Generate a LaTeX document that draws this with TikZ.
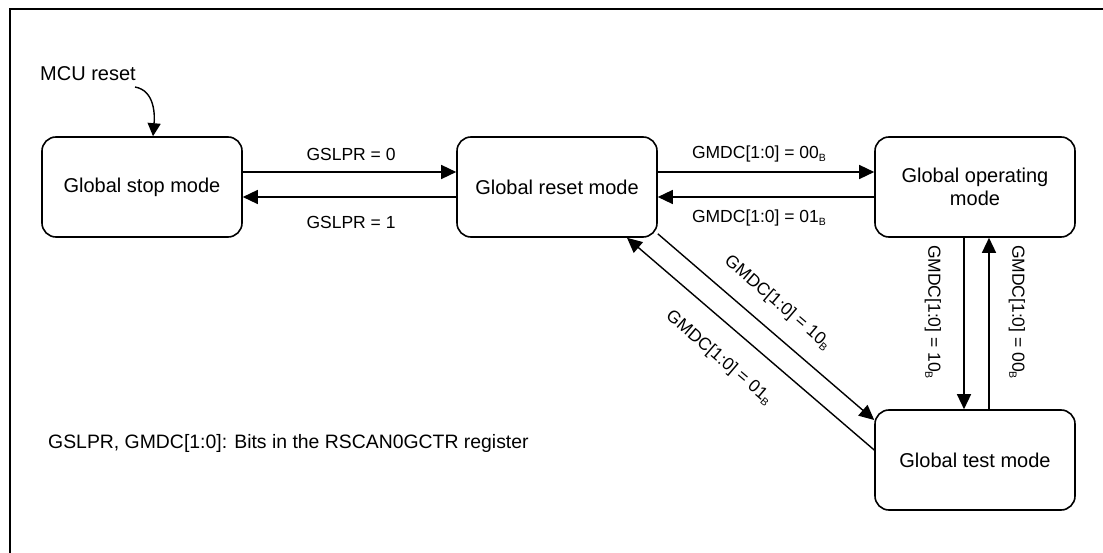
\documentclass[tikz,border=0pt]{standalone}
\usepackage{fontspec}
\setmainfont{Liberation Sans}
\usetikzlibrary{arrows.meta}
\newcommand\bsub{\raisebox{-0.18em}{\fontsize{10.5}{11}\selectfont B}}
\tikzset{
  modebox/.style={draw, line width=1.6pt, rounded corners=14pt, minimum width=200pt, minimum height=100pt, align=center, inner sep=0pt, font=\fontsize{20}{23}\selectfont},
  arr/.style={line width=1.4pt, -{Triangle[length=15pt,width=14pt]}},
  lbl/.style={inner sep=0pt, font=\fontsize{17.5}{20}\selectfont},
  txt/.style={inner sep=0pt, font=\fontsize{20}{23}\selectfont}
}
\begin{document}
\begin{tikzpicture}[x=1pt,y=1pt]
\useasboundingbox (0,0) rectangle (1103,552);
% frame
\draw[line width=2.2pt] (10,-5) -- (10,543) -- (1110,543);
% boxes
\node[modebox] (stop) at (142,365) {Global stop mode};
\node[modebox] (reset) at (557,365) {Global reset mode};
\node[modebox] (op) at (975,365) {Global operating\\mode};
\node[modebox] (test) at (975,92) {Global test mode};
% MCU reset
\node[txt] (mcu) at (88,478) {MCU reset};
\coordinate (mcustart) at (135,465);
\draw[line width=1.4pt, -{Triangle[length=13pt,width=13pt]}] (mcustart) to[out=-10, in=85] ([xshift=11pt]stop.north);
% horizontal arrows
\draw[arr] ([yshift=15pt]stop.east) -- ([yshift=15pt]reset.west);
\draw[arr] ([yshift=-10pt]reset.west) -- ([yshift=-10pt]stop.east);
\draw[arr] ([yshift=15pt]reset.east) -- ([yshift=15pt]op.west);
\draw[arr] ([yshift=-10pt]op.west) -- ([yshift=-10pt]reset.east);
% vertical arrows
\draw[arr] ([xshift=-11pt]op.south) -- ([xshift=-11pt]test.north);
\draw[arr] ([xshift=14pt]test.north) -- ([xshift=14pt]op.south);
% diagonal arrows
\draw[arr] ([yshift=4pt]reset.south east) -- ([yshift=40pt]test.west);
\draw[arr] ([yshift=10pt]test.west) -- ([xshift=70pt]reset.south);
% labels
\node[lbl] (l1) at (351,398) {GSLPR = 0};
\node[lbl] (l2) at (351,330) {GSLPR = 1};
\node[lbl] (l3) at (759,398) {GMDC[1:0] = 00\bsub};
\node[lbl] (l4) at (759,334) {GMDC[1:0] = 01\bsub};
\node[lbl, rotate=-90] (l5) at (933,240) {GMDC[1:0] = 10\bsub};
\node[lbl, rotate=-90] (l6) at (1017,240) {GMDC[1:0] = 00\bsub};
\node[lbl, rotate=-40.6] (l7) at (777.5,249) {GMDC[1:0] = 10\bsub};
\node[lbl, rotate=-40.6] (l8) at (719,194) {GMDC[1:0] = 01\bsub};
% note
\node[txt, anchor=west, font=\fontsize{19.4}{22}\selectfont] (note) at (48,109) {GSLPR, GMDC[1:0]: Bits in the RSCAN0GCTR register};
\end{tikzpicture}
\end{document}
